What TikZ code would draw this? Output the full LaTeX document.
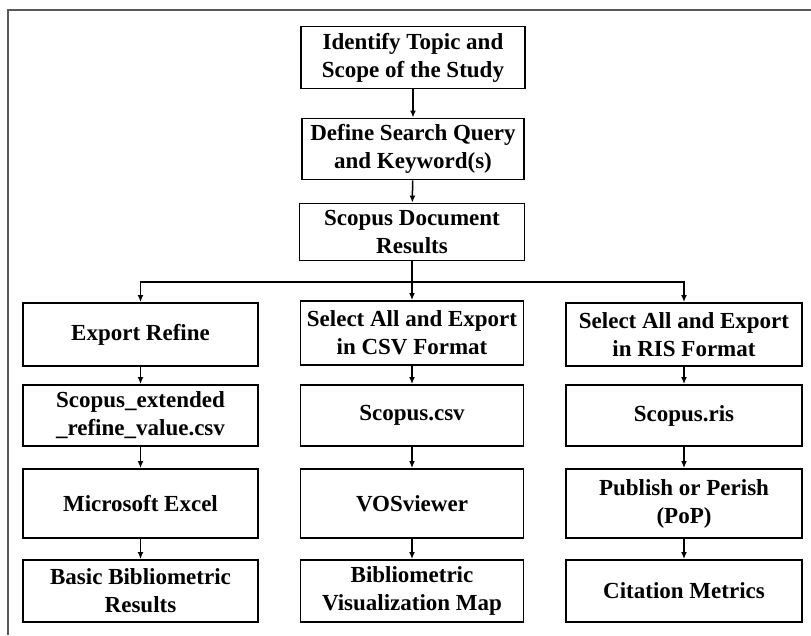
\documentclass[tikz,border=0pt]{standalone}
\usepackage{fontspec}
\setmainfont{Liberation Serif}
\usetikzlibrary{arrows.meta}
\tikzset{
    every node/.style={rectangle, draw, line width=1.9pt, align=center, inner sep=0pt, font=\bfseries\fontsize{23}{28}\selectfont}
}
\tikzset{link/.style={-{Latex[length=7pt,width=6pt]}, line width=1.5pt}}

\begin{document}
\begin{tikzpicture}[x=1pt,y=-1pt]
        \useasboundingbox (0,0) rectangle (811,635);
        \draw [black!65, line width=1.5pt] (8,635) -- (8,10) -- (811,10);
        \node (v0) [minimum width=224pt, minimum height=62pt] at (413,57.5) {Identify Topic and\\Scope of the Study};
        \node (v1) [minimum width=222pt, minimum height=61pt] at (413,149) {Define Search Query\\and Keyword(s)};
        \node (v2) [minimum width=225pt, minimum height=57pt] at (412,232) {Scopus Document\\Results};
        \coordinate (v3) at (412,282);
        \node (v4) [minimum width=235pt, minimum height=63pt] at (140.5,334.5) {Export Refine};
        \node (v5) [minimum width=223pt, minimum height=64pt] at (412,333) {Select All and Export\\in CSV Format};
        \node (v6) [minimum width=236pt, minimum height=63pt] at (684,334.5) {Select All and Export\\in RIS Format};
        \node (v7) [minimum width=235pt, minimum height=61pt] at (140.5,415.5) {Scopus\_extended\\\_refine\_value.csv};
        \node (v8) [minimum width=223pt, minimum height=61pt] at (412,415.5) {Scopus.csv};
        \node (v9) [minimum width=236pt, minimum height=61pt] at (684,415.5) {Scopus.ris};
        \node (v10) [minimum width=235pt, minimum height=69pt] at (140.5,503.5) {Microsoft Excel};
        \node (v11) [minimum width=223pt, minimum height=69pt] at (412,503.5) {VOSviewer};
        \node (v12) [minimum width=236pt, minimum height=69pt] at (684,503.5) {Publish or Perish\\(PoP)};
        \node (v13) [minimum width=235pt, minimum height=62pt] at (140.5,591) {Basic Bibliometric\\Results};
        \node (v14) [minimum width=223pt, minimum height=62pt] at (412,591) {Bibliometric\\Visualization Map};
        \node (v15) [minimum width=236pt, minimum height=62pt] at (684,591) {Citation Metrics};
        \draw [link] (v0) -- (v1);
        \draw [link] (v1) -- (v2);
        \draw [line width=1.5pt] (v2) -- (v3);
        \draw [link] (v3) -- (v5);
        \draw [link] (v3) -| (v4);
        \draw [link] (v3) -| (v6);
        \draw [link] (v4) -- (v7);
        \draw [link] (v7) -- (v10);
        \draw [link] (v10) -- (v13);
        \draw [link] (v5) -- (v8);
        \draw [link] (v8) -- (v11);
        \draw [link] (v11) -- (v14);
        \draw [link] (v6) -- (v9);
        \draw [link] (v9) -- (v12);
        \draw [link] (v12) -- (v15);
\end{tikzpicture}
\end{document}
